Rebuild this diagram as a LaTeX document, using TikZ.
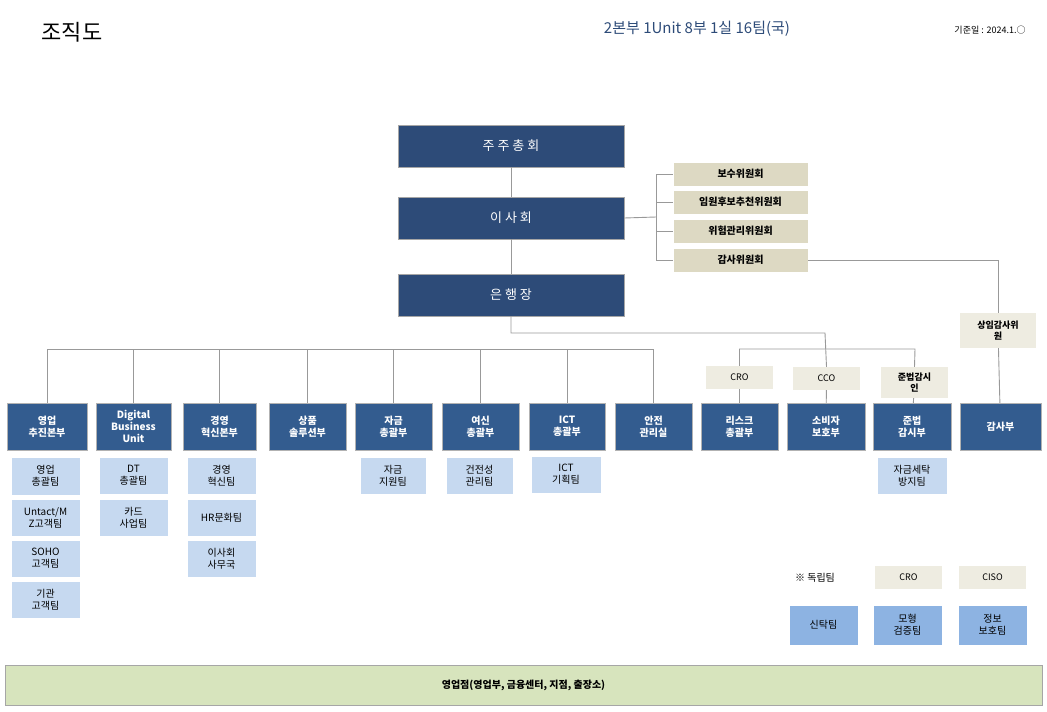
\documentclass[tikz,border=0pt]{standalone}
\usepackage{fontspec}
\setmainfont{Noto Sans CJK KR}
\begin{document}
\begin{tikzpicture}[x=1pt,y=-1pt,
 top/.style={draw=gray!70,fill=topc,text=white,font=\fontsize{13}{15}\selectfont},
 dept/.style={draw=gray!60,fill=deptc,text=white,font=\bfseries\fontsize{10}{12}\selectfont,align=center},
 comm/.style={draw=white,fill=commc,font=\bfseries\fontsize{10}{12}\selectfont},
 lab/.style={fill=labc,font=\fontsize{9}{11}\selectfont,align=center},
 team/.style={draw=white,fill=teamc,font=\fontsize{10}{12}\selectfont,align=center},
 bteam/.style={draw=white,fill=bteamc,font=\fontsize{10}{12}\selectfont,align=center},
 ln/.style={draw=gray!80,line width=0.9pt}]
\definecolor{topc}{HTML}{2D4B78}
\definecolor{deptc}{HTML}{335C8F}
\definecolor{commc}{HTML}{DDD9C3}
\definecolor{labc}{HTML}{EEECE1}
\definecolor{teamc}{HTML}{C6D9F0}
\definecolor{bteamc}{HTML}{8DB3E2}
\definecolor{barc}{HTML}{D7E4BD}
\useasboundingbox (0,0) rectangle (1047,712);
\newcommand{\bx}[6]{\node[#1,minimum width=#4-#2,minimum height=#5-#3,inner sep=1pt] (#6) at ({(#2+#4)/2},{(#3+#5)/2})}
% title
\node[font=\fontsize{22}{26}\selectfont] (ttl) at (72,32) {조직도};
\node[font=\fontsize{15}{18}\selectfont,text=topc] (sub) at (697,29) {2본부 1Unit 8부 1실 16팀(국)};
\node[font=\fontsize{9}{11}\selectfont] (date) at (990,30) {기준일 : 2024.1.○};
% top
\bx{top}{398}{125}{624}{167}{gm} {주 주 총 회};
\bx{top}{398}{197}{624}{239}{bd} {이 사 회};
\bx{top}{398}{274}{624}{316}{ceo} {은 행 장};
\bx{comm}{673}{162}{808}{186}{c1} {보수위원회};
\bx{comm}{673}{190}{808}{214}{c2} {임원후보추천위원회};
\bx{comm}{673}{219}{808}{243}{c3} {위험관리위원회};
\bx{comm}{673}{248}{808}{272}{c4} {감사위원회};
\bx{lab}{960}{313}{1036}{348}{sa} {\bfseries 상임감사위\\\bfseries 원};
% departments
\bx{dept}{7}{403}{87}{450}{d1} {영업\\추진본부};
\bx{dept}{96}{403}{171}{450}{d2} {Digital\\Business\\Unit};
\bx{dept}{183}{403}{256}{450}{d3} {경영\\혁신본부};
\bx{dept}{269}{403}{346}{450}{d4} {상품\\솔루션부};
\bx{dept}{355}{403}{432}{450}{d5} {자금\\총괄부};
\bx{dept}{442}{403}{519}{450}{d6} {여신\\총괄부};
\bx{dept}{529}{403}{605}{450}{d7} {ICT\\총괄부};
\bx{dept}{615}{403}{692}{450}{d8} {안전\\관리실};
\bx{dept}{701}{403}{778}{450}{d9} {리스크\\총괄부};
\bx{dept}{787}{403}{865}{450}{d10} {소비자\\보호부};
\bx{dept}{873}{403}{951}{450}{d11} {준법\\감시부};
\bx{dept}{960}{403}{1041}{450}{d12} {감사부};
\bx{lab}{706}{366}{773}{389}{l1} {CRO};
\bx{lab}{793}{367}{860}{390}{l2} {CCO};
\bx{lab}{881}{367}{948}{398}{l3} {\bfseries 준법감시\\\bfseries 인};
% teams
\bx{team}{11}{457}{80}{495}{t11} {영업\\총괄팀};
\bx{team}{11}{499}{80}{536}{t12} {Untact/M\\Z고객팀};
\bx{team}{11}{540}{80}{577}{t13} {SOHO\\고객팀};
\bx{team}{11}{581}{80}{618}{t14} {기관\\고객팀};
\bx{team}{99}{457}{168}{494}{t21} {DT\\총괄팀};
\bx{team}{99}{499}{168}{536}{t22} {카드\\사업팀};
\bx{team}{187}{457}{256}{494}{t31} {경영\\혁신팀};
\bx{team}{187}{499}{256}{536}{t32} {HR문화팀};
\bx{team}{187}{540}{256}{577}{t33} {이사회\\사무국};
\bx{team}{360}{457}{426}{494}{t5} {자금\\지원팀};
\bx{team}{446}{457}{513}{494}{t6} {건전성\\관리팀};
\bx{team}{531}{456}{601}{493}{t7} {ICT\\기획팀};
\bx{team}{877}{457}{947}{494}{t11b} {자금세탁\\방지팀};
% bottom
\node[font=\fontsize{10}{12}\selectfont] (ind) at (815,578) {※ 독립팀};
\bx{lab}{875}{566}{942}{589}{b1} {CRO};
\bx{lab}{959}{566}{1026}{589}{b2} {CISO};
\bx{bteam}{789}{605}{858}{645}{s1} {신탁팀};
\bx{bteam}{873}{605}{942}{645}{s2} {모형\\검증팀};
\bx{bteam}{958}{605}{1027}{645}{s3} {정보\\보호팀};
\node[draw=gray!70,fill=barc,minimum width=1037,minimum height=40,font=\bfseries\fontsize{10}{12}\selectfont] (bar) at (523.5,685) {영업점(영업부, 금융센터, 지점, 출장소)};
% connectors
\draw[ln] (gm) -- (bd);
\draw[ln] (bd) -- (ceo);
\coordinate (br) at (656,217);
\draw[ln] (bd.east) -- (br);
\draw[ln] (656,174) -- (656,260);
\foreach \c in {c1,c2,c3,c4} \draw[ln] (656,0 |- \c.west) -- (\c.west);
\draw[ln] (c4.east) -| (sa.north);
\draw[ln] (sa) -- (d12);
\draw[ln] (ceo.south) -- (511,333) -- (825,333) -- (l2.north);
\draw[ln] (l2) -- (d10);
\draw[ln] (47,349) -- (653.5,349);
\foreach \d in {d1,d2,d3,d4,d5,d6,d7,d8} \draw[ln] (\d.north) -- (\d.north |- 0,349);
\draw[ln] (l1.north) |- (915,349) -- (l3.north);
\draw[ln] (l1) -- (d9);
\draw[ln] (l3) -- (d11);
\end{tikzpicture}
\end{document}
